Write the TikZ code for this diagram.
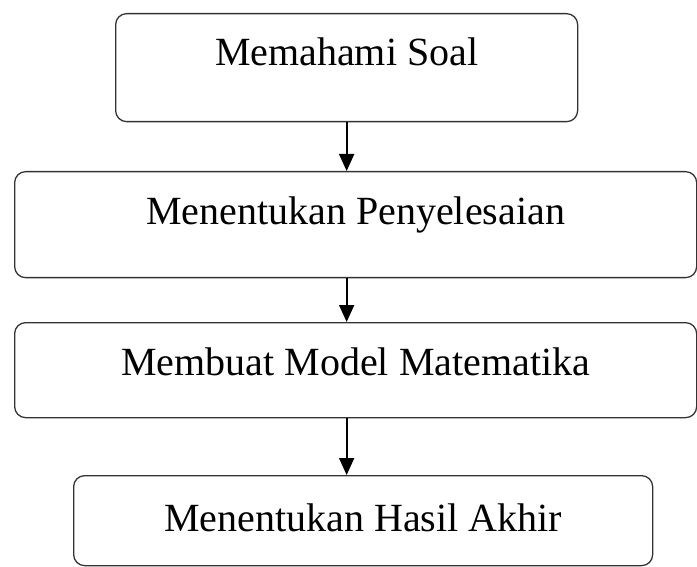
\documentclass[tikz,border=0pt]{standalone}
\usepackage{fontspec}
\setmainfont{Liberation Serif}
\usetikzlibrary{arrows.meta}

\begin{document}
\begin{tikzpicture}[x=1pt,y=-1pt,
    langkah/.style={draw=black!80,line width=1.3pt,rounded corners=11pt,anchor=north west,
        inner sep=0pt,font=\fontsize{40}{42}\selectfont,align=center},
    panah/.style={line width=1.8pt,-{Triangle[length=17pt,width=15pt]}}]
            %%% FRAME %%%
            \useasboundingbox (0,0) rectangle (697,567);

            %%% BOXES %%%
            \node[langkah,minimum width=462pt,text height=52pt,text depth=56pt] (soal) at (115,13) {Memahami Soal};
            \node[langkah,minimum width=682pt,text height=53pt,text depth=53pt] (penyelesaian) at (14,171) {Menentukan Penyelesaian};
            \node[langkah,minimum width=682pt,text height=53pt,text depth=42pt] (model) at (14,322) {Membuat Model Matematika};
            \node[langkah,minimum width=579pt,text height=56pt,text depth=34pt] (hasil) at (73,475) {Menentukan Hasil Akhir};

            %%% ARROWS %%%
            \draw[panah] (soal.south) -- (penyelesaian.north -| soal.south);
            \draw[panah] (penyelesaian.south -| soal.south) -- (model.north -| soal.south);
            \draw[panah] (model.south -| soal.south) -- (hasil.north -| soal.south);
        \end{tikzpicture}
\end{document}
